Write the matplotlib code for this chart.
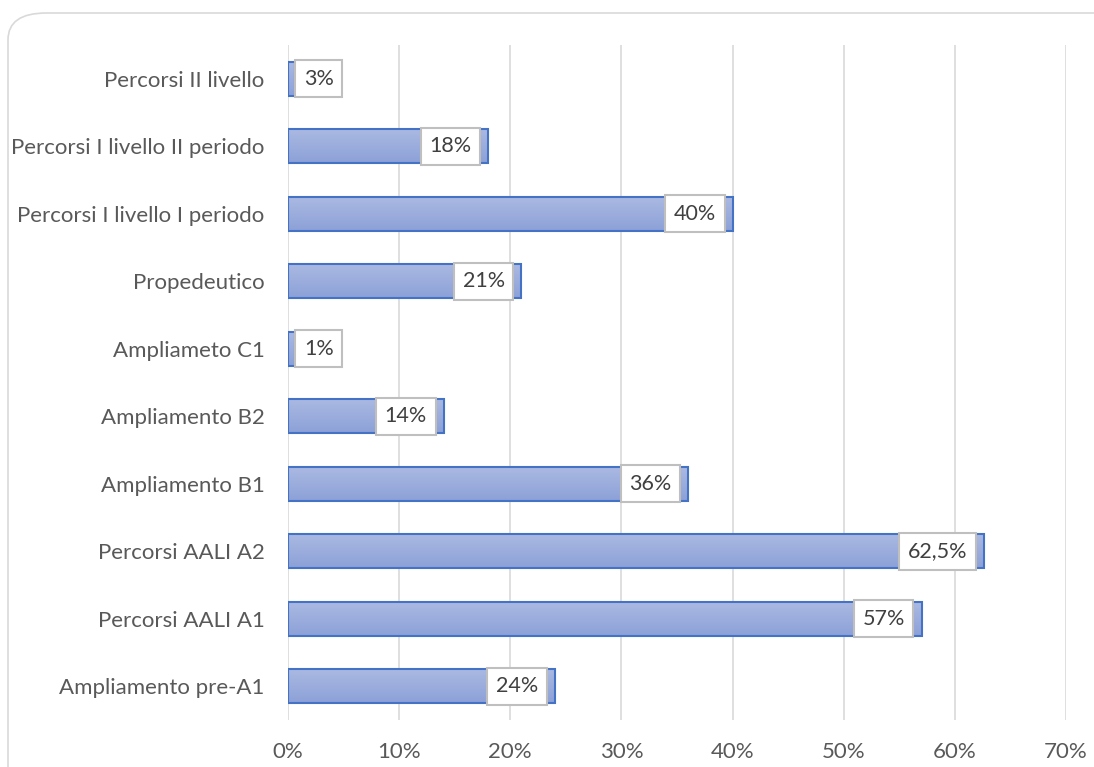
import matplotlib.pyplot as plt
import numpy as np
from matplotlib.patches import FancyBboxPatch
from matplotlib.colors import LinearSegmentedColormap

categorie = ["Ampliamento pre-A1", "Percorsi AALI A1", "Percorsi AALI A2",
             "Ampliamento B1", "Ampliamento B2", "Ampliameto C1",
             "Propedeutico", "Percorsi I livello I periodo",
             "Percorsi I livello II periodo", "Percorsi II livello"]
valori = [24, 57, 62.6, 36, 14, 0.6, 21, 40, 18, 0.6]
etichette = ["24%", "57%", "62,5%", "36%", "14%", "1%", "21%", "40%", "18%", "3%"]
tick_x = [0, 10, 20, 30, 40, 50, 60, 70]

plt.rcParams['font.family'] = ['Lato', 'DejaVu Sans']

fig = plt.figure(figsize=(10.94, 7.67), dpi=100)
# cornice arrotondata
cornice = FancyBboxPatch((8 / 1094, -0.05), 1.2, 1.0 - 13 / 767 + 0.05,
                         boxstyle="round,pad=0,rounding_size=0.035",
                         transform=fig.transFigure, facecolor="white",
                         edgecolor="#D9D9D9", linewidth=1.2, zorder=-5)
fig.patches.append(cornice)

ax = fig.add_axes([288 / 1094, 1 - 720 / 767, (1066 - 288) / 1094, (720 - 45) / 767])
ax.set_facecolor("none")
ax.set_xlim(0, 70)
ax.set_ylim(-0.5, len(categorie) - 0.5)

y = np.arange(len(categorie))
h = 0.5
grad = np.linspace(0, 1, 50).reshape(-1, 1)
cmap = LinearSegmentedColormap.from_list("g", ["#8DA1D8", "#AAB9E2"])
for yi, v in zip(y, valori):
    ax.imshow(grad, cmap=cmap, aspect="auto", origin="lower",
              extent=(0, v, yi - h / 2, yi + h / 2), zorder=2)
ax.barh(y, valori, height=h, facecolor="none", edgecolor="#4472C4",
        linewidth=1.5, zorder=3)

fs = 15.5
pad = 0.4
for yi, v, t in zip(y, valori, etichette):
    if v > 5:
        dx, ha = -(5.8 + pad * fs), "right"
    else:
        dx, ha = pad * fs + 0.5, "left"
    ax.annotate(t, (v, yi), xytext=(dx, 0), textcoords="offset points",
                ha=ha, va="center", fontsize=fs, color="#404040", zorder=5,
                bbox=dict(boxstyle=f"square,pad={pad}", facecolor="white",
                          edgecolor="#BFBFBF", linewidth=1.5))

ax.set_yticks(y)
ax.set_yticklabels(categorie)
ax.set_xticks(tick_x)
ax.set_xticklabels([f"{t}%" for t in tick_x])
ax.tick_params(axis="both", length=0, labelsize=16, labelcolor="#595959")
ax.tick_params(axis="x", pad=16)
ax.tick_params(axis="y", pad=17)
ax.grid(axis="x", color="#D9D9D9", linewidth=1.2, zorder=0)
ax.set_axisbelow(True)
for s in ax.spines.values():
    s.set_visible(False)

fig.savefig("out.png", dpi=100)
